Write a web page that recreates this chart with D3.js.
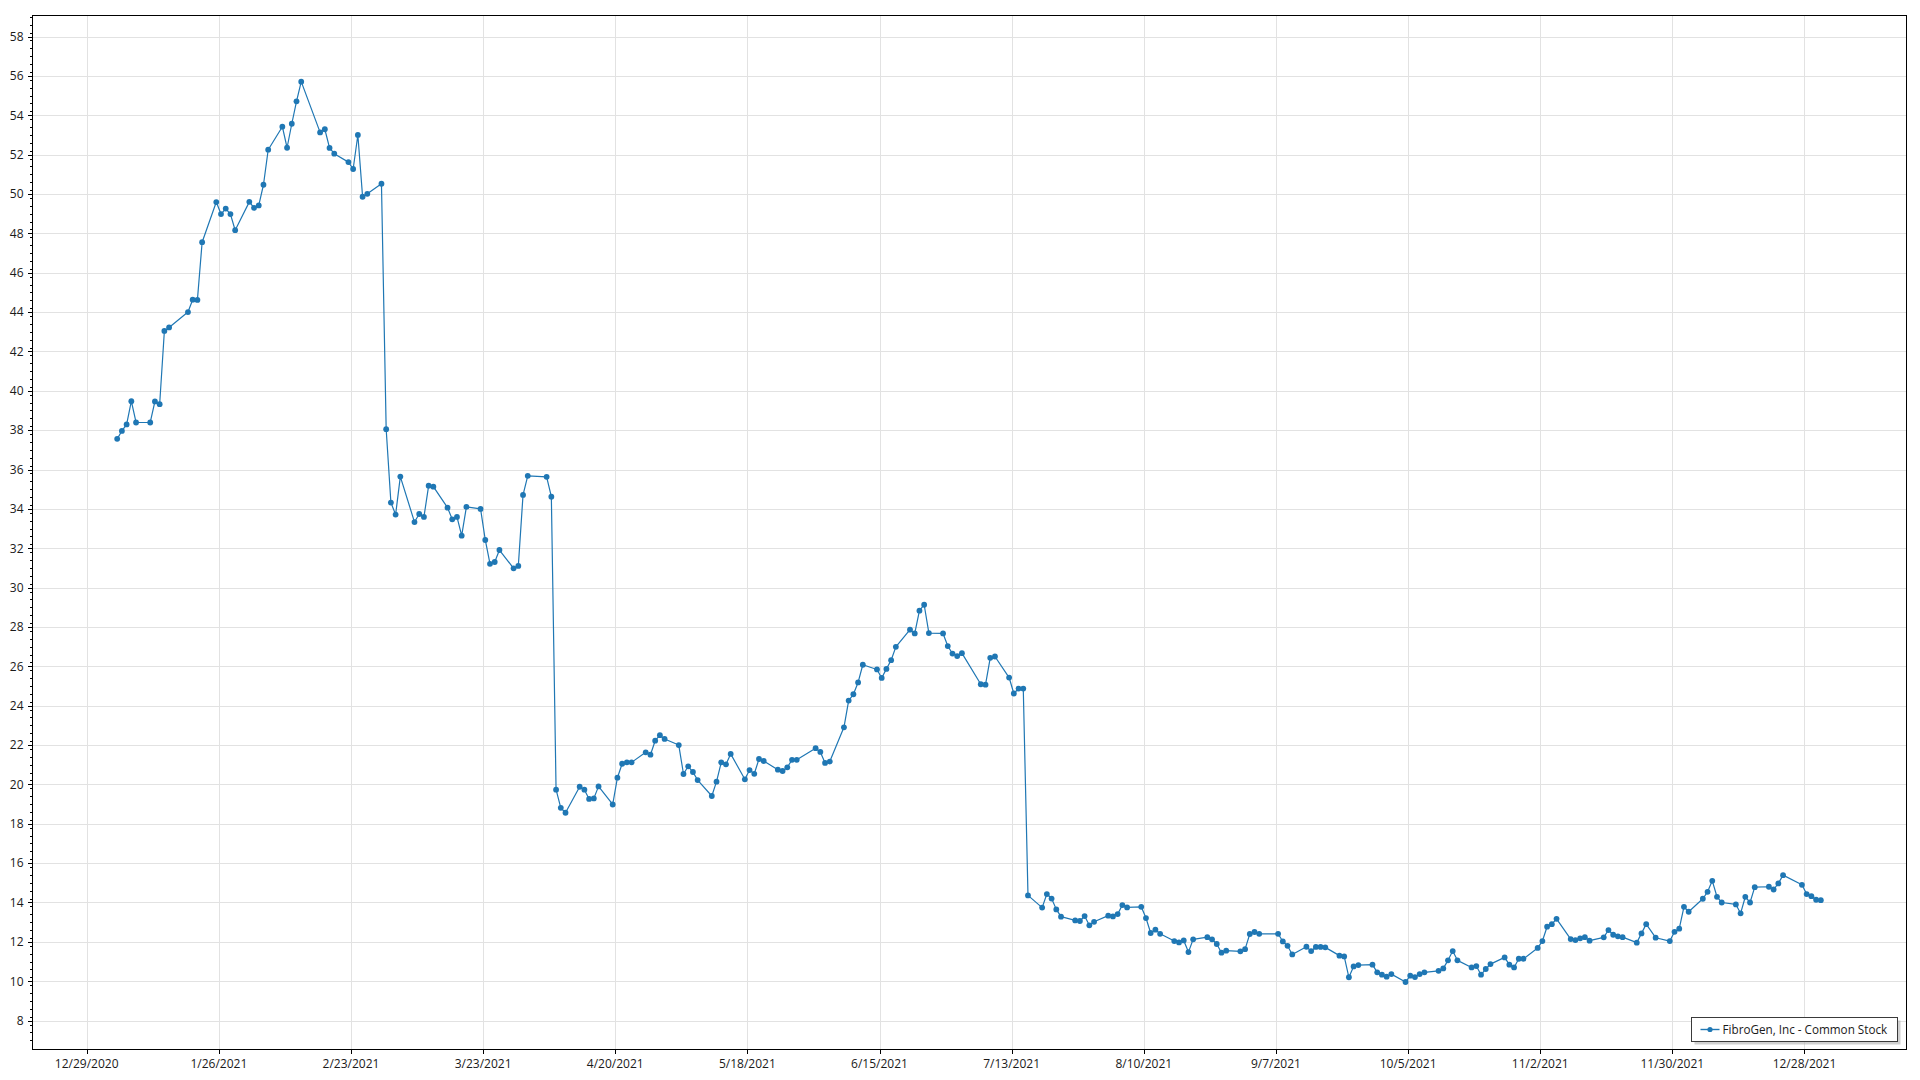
<!DOCTYPE html>
<html>
<head>
<meta charset="utf-8">
<script src="https://cdn.jsdelivr.net/npm/d3@7"></script>
<style>
  html, body { margin: 0; padding: 0; background: #ffffff; }
  svg text { font-family: "Open Sans", "Noto Sans", sans-serif; fill: #1a1a1a; }
</style>
</head>
<body>
<svg id="chart" width="1920" height="1080"></svg>
<script>
// ---------------- DATA ----------------
const seriesName = "FibroGen, Inc - Common Stock";

const tradingDays = [
  "2021-01-04","2021-01-05","2021-01-06","2021-01-07","2021-01-08","2021-01-11","2021-01-12","2021-01-13","2021-01-14","2021-01-15","2021-01-19","2021-01-20","2021-01-21","2021-01-22","2021-01-25","2021-01-26","2021-01-27","2021-01-28","2021-01-29",
  "2021-02-01","2021-02-02","2021-02-03","2021-02-04","2021-02-05","2021-02-08","2021-02-09","2021-02-10","2021-02-11","2021-02-12","2021-02-16","2021-02-17","2021-02-18","2021-02-19","2021-02-22","2021-02-23","2021-02-24","2021-02-25","2021-02-26",
  "2021-03-01","2021-03-02","2021-03-03","2021-03-04","2021-03-05","2021-03-08","2021-03-09","2021-03-10","2021-03-11","2021-03-12","2021-03-15","2021-03-16","2021-03-17","2021-03-18","2021-03-19","2021-03-22","2021-03-23","2021-03-24","2021-03-25","2021-03-26","2021-03-29","2021-03-30","2021-03-31",
  "2021-04-01","2021-04-05","2021-04-06","2021-04-07","2021-04-08","2021-04-09","2021-04-12","2021-04-13","2021-04-14","2021-04-15","2021-04-16","2021-04-19","2021-04-20","2021-04-21","2021-04-22","2021-04-23","2021-04-26","2021-04-27","2021-04-28","2021-04-29","2021-04-30",
  "2021-05-03","2021-05-04","2021-05-05","2021-05-06","2021-05-07","2021-05-10","2021-05-11","2021-05-12","2021-05-13","2021-05-14","2021-05-17","2021-05-18","2021-05-19","2021-05-20","2021-05-21","2021-05-24","2021-05-25","2021-05-26","2021-05-27","2021-05-28",
  "2021-06-01","2021-06-02","2021-06-03","2021-06-04","2021-06-07","2021-06-08","2021-06-09","2021-06-10","2021-06-11","2021-06-14","2021-06-15","2021-06-16","2021-06-17","2021-06-18","2021-06-21","2021-06-22","2021-06-23","2021-06-24","2021-06-25","2021-06-28","2021-06-29","2021-06-30",
  "2021-07-01","2021-07-02","2021-07-06","2021-07-07","2021-07-08","2021-07-09","2021-07-12","2021-07-13","2021-07-14","2021-07-15","2021-07-16","2021-07-19","2021-07-20","2021-07-21","2021-07-22","2021-07-23","2021-07-26","2021-07-27","2021-07-28","2021-07-29","2021-07-30",
  "2021-08-02","2021-08-03","2021-08-04","2021-08-05","2021-08-06","2021-08-09","2021-08-10","2021-08-11","2021-08-12","2021-08-13","2021-08-16","2021-08-17","2021-08-18","2021-08-19","2021-08-20","2021-08-23","2021-08-24","2021-08-25","2021-08-26","2021-08-27","2021-08-30","2021-08-31",
  "2021-09-01","2021-09-02","2021-09-03","2021-09-07","2021-09-08","2021-09-09","2021-09-10","2021-09-13","2021-09-14","2021-09-15","2021-09-16","2021-09-17","2021-09-20","2021-09-21","2021-09-22","2021-09-23","2021-09-24","2021-09-27","2021-09-28","2021-09-29","2021-09-30",
  "2021-10-01","2021-10-04","2021-10-05","2021-10-06","2021-10-07","2021-10-08","2021-10-11","2021-10-12","2021-10-13","2021-10-14","2021-10-15","2021-10-18","2021-10-19","2021-10-20","2021-10-21","2021-10-22","2021-10-25","2021-10-26","2021-10-27","2021-10-28","2021-10-29",
  "2021-11-01","2021-11-02","2021-11-03","2021-11-04","2021-11-05","2021-11-08","2021-11-09","2021-11-10","2021-11-11","2021-11-12","2021-11-15","2021-11-16","2021-11-17","2021-11-18","2021-11-19","2021-11-22","2021-11-23","2021-11-24","2021-11-26","2021-11-29","2021-11-30",
  "2021-12-01","2021-12-02","2021-12-03","2021-12-06","2021-12-07","2021-12-08","2021-12-09","2021-12-10","2021-12-13","2021-12-14","2021-12-15","2021-12-16","2021-12-17","2021-12-20","2021-12-21","2021-12-22","2021-12-23","2021-12-27","2021-12-28","2021-12-29","2021-12-30","2021-12-31"
];

const closePrices = [
  37.56,37.96,38.29,39.47,38.39,38.39,39.46,39.32,43.04,43.22,44.00,44.63,44.62,47.55,49.59,48.98,49.26,48.98,48.16,
  49.60,49.30,49.42,50.47,52.25,53.42,52.35,53.57,54.71,55.71,53.13,53.29,52.34,52.05,51.62,51.27,53.00,49.86,50.01,
  50.52,38.05,34.32,33.71,35.64,33.33,33.74,33.59,35.18,35.13,34.06,33.47,33.59,32.64,34.10,34.00,32.42,31.21,31.30,31.91,30.98,31.10,34.71,
  35.68,35.63,34.62,19.73,18.81,18.56,19.88,19.73,19.26,19.29,19.90,18.98,20.34,21.05,21.12,21.12,21.63,21.51,22.22,22.50,22.31,
  22.00,20.53,20.92,20.63,20.22,19.41,20.14,21.12,21.02,21.55,20.26,20.73,20.54,21.29,21.19,20.75,20.68,20.87,21.25,21.25,
  21.84,21.65,21.09,21.16,22.90,24.26,24.58,25.18,26.08,25.84,25.41,25.87,26.31,26.99,27.86,27.67,28.83,29.13,27.69,27.67,27.03,26.65,
  26.52,26.67,25.09,25.07,26.43,26.50,25.43,24.62,24.87,24.87,14.36,13.74,14.43,14.20,13.65,13.28,13.09,13.06,13.31,12.84,13.02,
  13.33,13.29,13.41,13.87,13.75,13.78,13.21,12.45,12.62,12.41,12.04,11.97,12.07,11.48,12.13,12.24,12.13,11.89,11.45,11.55,11.52,11.63,
  12.40,12.50,12.41,12.41,12.02,11.80,11.36,11.75,11.53,11.74,11.74,11.72,11.30,11.26,10.20,10.75,10.82,10.84,10.45,10.33,10.23,
  10.36,9.96,10.28,10.21,10.36,10.45,10.53,10.65,11.06,11.53,11.06,10.70,10.77,10.33,10.62,10.87,11.21,10.84,10.70,11.14,11.14,
  11.69,12.04,12.77,12.90,13.17,12.14,12.09,12.18,12.24,12.06,12.23,12.60,12.36,12.28,12.24,11.96,12.43,12.90,12.21,12.04,12.51,
  12.67,13.78,13.53,14.19,14.54,15.10,14.29,14.00,13.90,13.45,14.29,14.00,14.78,14.80,14.66,14.97,15.39,14.90,14.43,14.32,14.14,14.12
];

const xTickLabels = ["12/29/2020","1/26/2021","2/23/2021","3/23/2021","4/20/2021","5/18/2021","6/15/2021",
                     "7/13/2021","8/10/2021","9/7/2021","10/5/2021","11/2/2021","11/30/2021","12/28/2021"];
const yTickValues = d3.range(8, 58.001, 2);
const yMinorValues = d3.range(7, 59.001, 0.4);
const yDomain = [6.53, 59.07];

// ---------------- LAYOUT ----------------
const plot = { left: 32, right: 1906, top: 15.5, bottom: 1049.5 };
const color = "#1f77b4";

const svg = d3.select("#chart");
const parseDay = d3.timeParse("%Y-%m-%d");
const parseTick = d3.timeParse("%m/%d/%Y");

const points = tradingDays.map((s, i) => ({ t: d3.timeHour.offset(parseDay(s), 11), v: closePrices[i] }));
const [tMin, tMax] = d3.extent(points, d => d.t);
const tPad = (tMax - tMin) * 0.05;

const x = d3.scaleTime()
  .domain([new Date(+tMin - tPad), new Date(+tMax + tPad)])
  .range([plot.left, plot.right]);
const y = d3.scaleLinear().domain(yDomain).range([plot.bottom, plot.top]);

const xTicks = xTickLabels.map(s => ({ label: s, t: parseTick(s) }));

// gridlines
const grid = svg.append("g").attr("shape-rendering", "crispEdges");
grid.selectAll("line.hg").data(yTickValues).join("line")
  .attr("x1", plot.left).attr("x2", plot.right)
  .attr("y1", d => Math.round(y(d)) + 0.5).attr("y2", d => Math.round(y(d)) + 0.5)
  .attr("stroke", "#e2e2e2").attr("stroke-width", 1);
grid.selectAll("line.vg").data(xTicks).join("line")
  .attr("x1", d => Math.round(x(d.t)) + 0.5).attr("x2", d => Math.round(x(d.t)) + 0.5)
  .attr("y1", plot.top).attr("y2", plot.bottom)
  .attr("stroke", "#e2e2e2").attr("stroke-width", 1);

// plot border
svg.append("rect")
  .attr("x", plot.left + 0.5).attr("y", plot.top)
  .attr("width", plot.right - plot.left).attr("height", plot.bottom - plot.top)
  .attr("fill", "none").attr("stroke", "#000").attr("stroke-width", 1)
  .attr("shape-rendering", "crispEdges");

// y axis ticks + labels
const yAxisG = svg.append("g").attr("shape-rendering", "crispEdges");
yAxisG.selectAll("line.minor").data(yMinorValues.filter(v => v > yDomain[0] && v < yDomain[1])).join("line")
  .attr("x1", plot.left - 2).attr("x2", plot.left)
  .attr("y1", d => Math.round(y(d)) + 0.5).attr("y2", d => Math.round(y(d)) + 0.5)
  .attr("stroke", "#000");
yAxisG.selectAll("line.major").data(yTickValues).join("line")
  .attr("x1", plot.left - 4).attr("x2", plot.left)
  .attr("y1", d => Math.round(y(d)) + 0.5).attr("y2", d => Math.round(y(d)) + 0.5)
  .attr("stroke", "#000");
svg.append("g").selectAll("text").data(yTickValues).join("text")
  .attr("x", 23.5).attr("y", d => y(d)).attr("dy", "0.36em")
  .attr("text-anchor", "end").attr("font-size", "12px")
  .text(d => d);

// x axis ticks + labels
const xAxisG = svg.append("g").attr("shape-rendering", "crispEdges");
xAxisG.selectAll("line").data(xTicks).join("line")
  .attr("x1", d => Math.round(x(d.t)) + 0.5).attr("x2", d => Math.round(x(d.t)) + 0.5)
  .attr("y1", plot.bottom).attr("y2", plot.bottom + 4)
  .attr("stroke", "#000");
svg.append("g").selectAll("text").data(xTicks).join("text")
  .attr("x", d => x(d.t)).attr("y", 1068)
  .attr("text-anchor", "middle").attr("font-size", "12px")
  .text(d => d.label);

// series line
const line = d3.line().x(d => x(d.t)).y(d => y(d.v));
svg.append("path").datum(points)
  .attr("d", line).attr("fill", "none")
  .attr("stroke", color).attr("stroke-width", 1.2).attr("stroke-linejoin", "round");
svg.append("g").selectAll("circle").data(points).join("circle")
  .attr("cx", d => x(d.t)).attr("cy", d => y(d.v)).attr("r", 2.9)
  .attr("fill", color);

// legend
const lg = svg.append("g");
const lgBox = { x: 1691.5, y: 1017.5, w: 206, h: 24 };
lg.append("rect").attr("x", lgBox.x + 3).attr("y", lgBox.y + 3).attr("width", lgBox.w).attr("height", lgBox.h)
  .attr("fill", "#b0b0b0").attr("opacity", 0.6);
lg.append("rect").attr("x", lgBox.x).attr("y", lgBox.y).attr("width", lgBox.w).attr("height", lgBox.h)
  .attr("fill", "#fff").attr("stroke", "#3a3a3a").attr("stroke-width", 1).attr("shape-rendering", "crispEdges");
const lgMidY = lgBox.y + lgBox.h / 2;
lg.append("line").attr("x1", lgBox.x + 9).attr("x2", lgBox.x + 28)
  .attr("y1", lgMidY).attr("y2", lgMidY).attr("stroke", color).attr("stroke-width", 1.4);
lg.append("circle").attr("cx", lgBox.x + 18.5).attr("cy", lgMidY).attr("r", 2.6).attr("fill", color);
lg.append("text").attr("x", lgBox.x + 31).attr("y", lgMidY).attr("dy", "0.36em")
  .attr("font-size", "11.7px").text(seriesName);
</script>
</body>
</html>
